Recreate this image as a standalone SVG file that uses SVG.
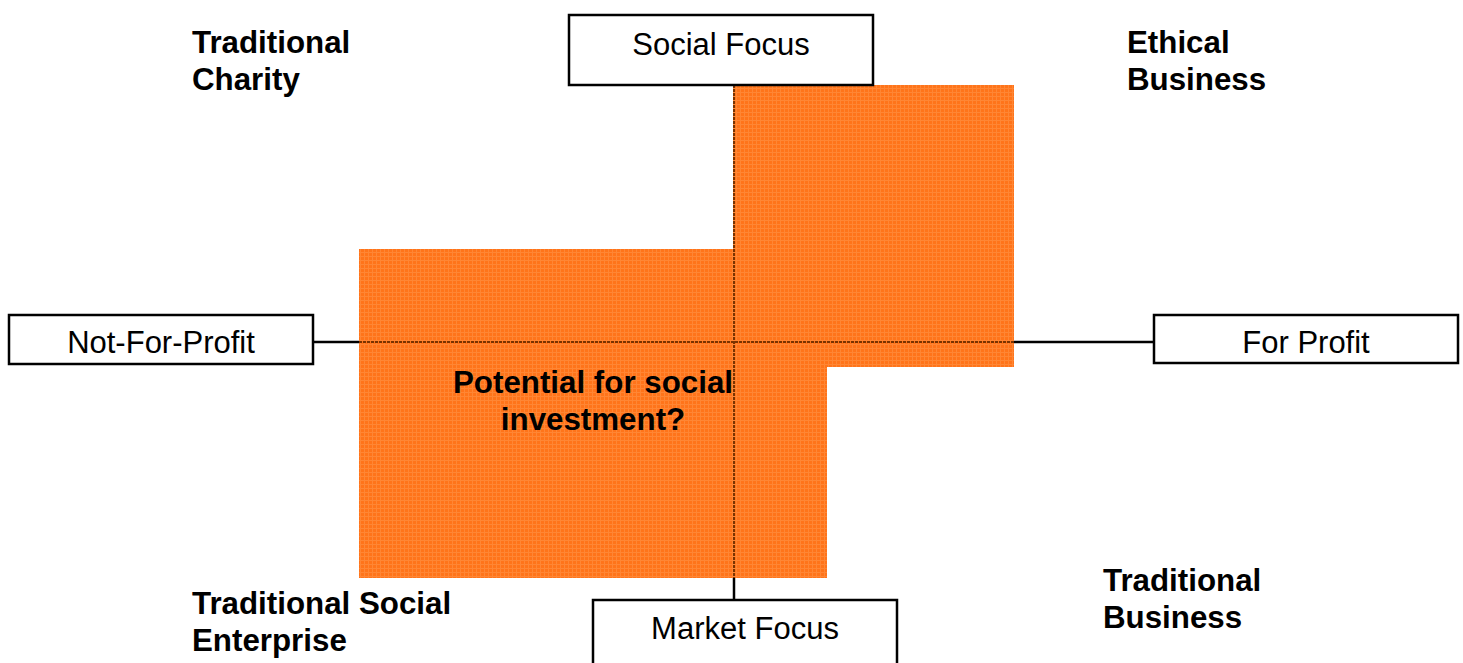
<svg xmlns="http://www.w3.org/2000/svg" width="1463" height="663" viewBox="0 0 1463 663">
<style>
.box{fill:#fff;stroke:#000;stroke-width:2.5}
.lbl{font-family:"Liberation Sans",Arial,sans-serif;font-size:31px;fill:#000;text-anchor:middle}
.q{font-family:"Liberation Sans",Arial,sans-serif;font-size:31.3px;font-weight:bold;fill:#000}
.ln{stroke:#000;stroke-width:2.5;fill:none}
.lnin{stroke:#7a3300;stroke-width:2;fill:none;stroke-dasharray:3 1}
</style>
<defs>
<pattern id="grid" width="4" height="4" patternUnits="userSpaceOnUse">
<rect width="4" height="4" fill="#FF7015" shape-rendering="crispEdges"/>
<rect x="0" y="0" width="4" height="1" fill="#FF8E40" shape-rendering="crispEdges"/>
<rect x="0" y="0" width="1" height="4" fill="#FF8E40" shape-rendering="crispEdges"/>
</pattern>
</defs>
<rect width="1463" height="663" fill="#fff"/>
<g id="region">
<polygon points="733,85 1014,85 1014,367 827,367 827,578 359,578 359,249 733,249" fill="#FF7A22"/>
<polygon points="733,85 1014,85 1014,367 827,367 827,578 359,578 359,249 733,249" fill="url(#grid)" opacity="0.6"/>
</g>
<g id="connectors">
<line class="ln" x1="313" y1="342" x2="359" y2="342"/>
<line class="ln" x1="1014" y1="342" x2="1154" y2="342"/>
<line class="ln" x1="734" y1="578" x2="734" y2="600"/>
<line class="lnin" x1="359" y1="342" x2="1014" y2="342"/>
<line class="lnin" x1="734" y1="85" x2="734" y2="578"/>
</g>
<g id="social-focus">
<rect class="box" x="569" y="15" width="304" height="70"/>
<text class="lbl" x="721" y="55">Social Focus</text>
</g>
<g id="not-for-profit">
<rect class="box" x="9" y="315" width="304" height="49"/>
<text class="lbl" x="161" y="353">Not-For-Profit</text>
</g>
<g id="for-profit">
<rect class="box" x="1154" y="315" width="304" height="48"/>
<text class="lbl" x="1306" y="353">For Profit</text>
</g>
<g id="market-focus">
<rect class="box" x="593" y="600" width="304" height="70"/>
<text class="lbl" x="745" y="639">Market Focus</text>
</g>
<g id="traditional-charity">
<text class="q" x="192" y="53">Traditional</text>
<text class="q" x="192" y="90">Charity</text>
</g>
<g id="ethical-business">
<text class="q" x="1127" y="53">Ethical</text>
<text class="q" x="1127" y="90">Business</text>
</g>
<g id="traditional-social-enterprise">
<text class="q" x="192" y="614">Traditional Social</text>
<text class="q" x="192" y="651">Enterprise</text>
</g>
<g id="traditional-business">
<text class="q" x="1103" y="591">Traditional</text>
<text class="q" x="1103" y="628">Business</text>
</g>
<g id="potential">
<text class="q" x="593" y="393" text-anchor="middle">Potential for social</text>
<text class="q" x="593" y="430" text-anchor="middle">investment?</text>
</g>
</svg>
